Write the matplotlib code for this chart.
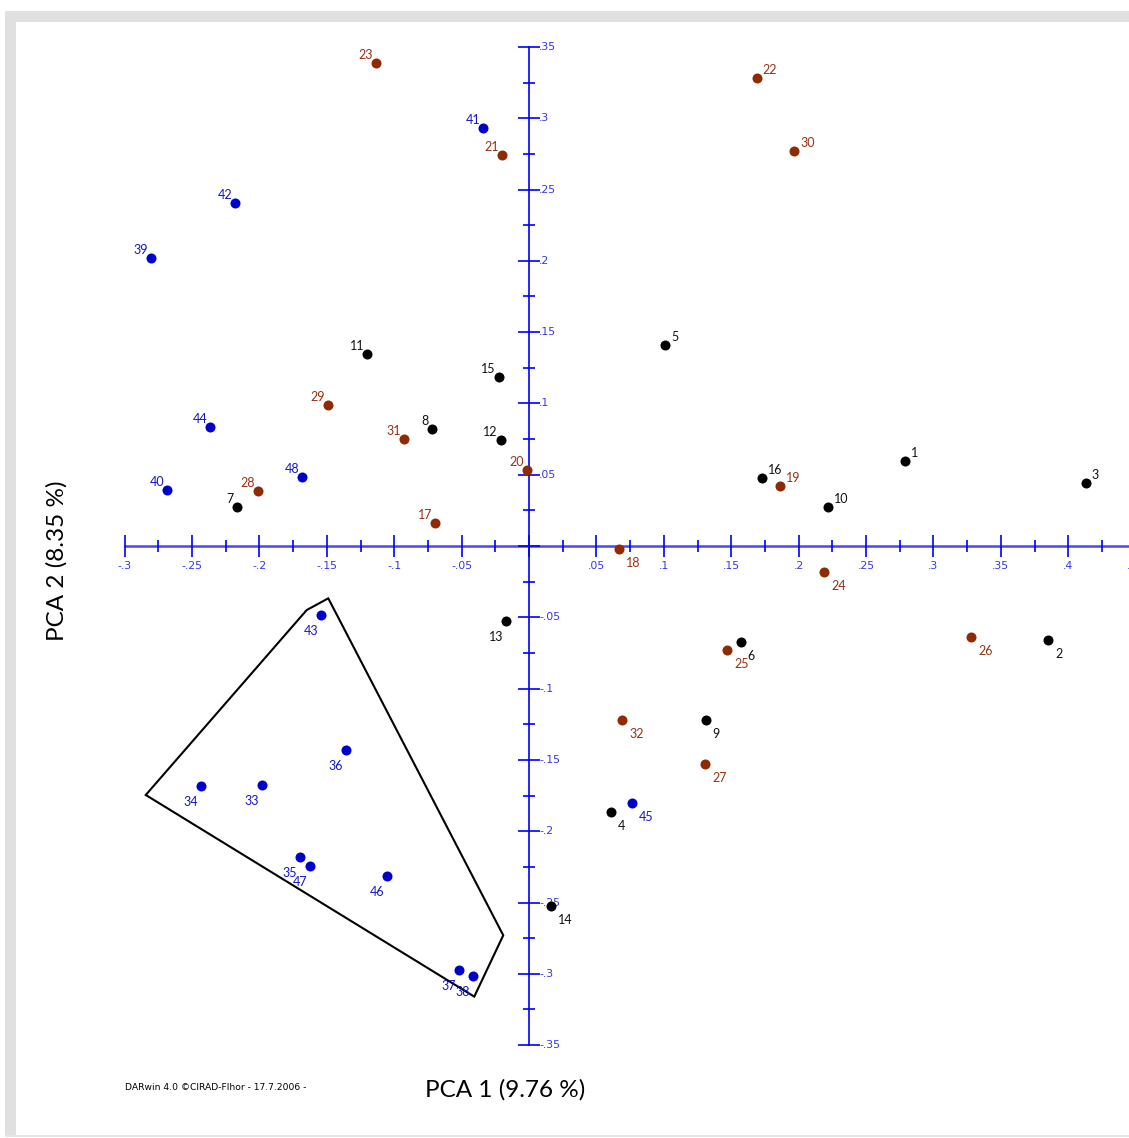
import numpy as np
import matplotlib
matplotlib.use("Agg")
import matplotlib.pyplot as plt
from matplotlib.patches import Polygon, Rectangle

# sample ids, PCA coordinates and group of each sample
ids = list(range(1, 49))
pca1 = [0.279, 0.385, 0.413, 0.061, 0.101, 0.157, -0.2166, -0.072, 0.131, 0.222,
        -0.120, -0.0208, -0.017, 0.0163, -0.0223, 0.173,
        -0.0697, 0.0668, 0.186, -0.0015, -0.020, 0.169, -0.1135, 0.219, 0.147,
        0.328, 0.1306, -0.201, -0.149, 0.1966, -0.0927, 0.069,
        -0.198, -0.2433, -0.1699, -0.1358, -0.0519, -0.0415, -0.2804, -0.2685,
        -0.0341, -0.218, -0.1543, -0.2366, 0.0764, -0.1053, -0.1625, -0.1684]
pca2 = [0.0596, -0.066, 0.044, -0.1865, 0.141, -0.0673, 0.0273, 0.082, -0.122, 0.0273,
        0.1346, 0.0743, -0.0526, -0.2525, 0.1185, 0.0477,
        0.0161, -0.0021, 0.042, 0.0533, 0.274, 0.328, 0.3387, -0.0182, -0.0729,
        -0.0638, -0.1529, 0.0386, 0.0989, 0.277, 0.075, -0.122,
        -0.1676, -0.1683, -0.218, -0.143, -0.2973, -0.3015, 0.202, 0.0393,
        0.293, 0.2405, -0.0484, 0.0834, -0.180, -0.2314, -0.2244, 0.0484]
groups = ["black"] * 16 + ["brown"] * 16 + ["blue"] * 16

marker_colors = {"black": "#000000", "brown": "#8f2a04", "blue": "#0000cc"}
label_colors = {"black": "#111111", "brown": "#963212", "blue": "#1515cc"}

# outline drawn round the blue cluster
hull_x = [-0.2843, -0.1649, -0.1489, -0.0191, -0.0406]
hull_y = [-0.1746, -0.0449, -0.0367, -0.273, -0.316]

x_ticks = np.round(np.arange(-0.3, 0.426, 0.025), 3)
y_ticks = np.round(np.arange(-0.35, 0.351, 0.025), 3)


def tick_text(v):
    s = f"{v:g}"
    return s.replace("0.", ".")


W, H = 1129, 1138
fig = plt.figure(figsize=(W / 100, H / 100), dpi=100)

# grey frame of the exported window
grey = "#e0e0e0"
fig.add_artist(Rectangle((5 / W, 1 - 22 / H), 1 - 5 / W, 11 / H,
                         transform=fig.transFigure, color=grey, lw=0))
fig.add_artist(Rectangle((5 / W, 2 / H), 11 / W, 1 - 13 / H,
                         transform=fig.transFigure, color=grey, lw=0))
fig.add_artist(Rectangle((5 / W, 1 / H), 1 - 5 / W, 2 / H,
                         transform=fig.transFigure, color="#e6e6e6", lw=0))

ax = fig.add_axes([0, 0, 1, 1])
ax.set_xlim(-529 / 1348, 600 / 1348)
ax.set_ylim((546 - 1138) / 1426, 546 / 1426)
ax.axis("off")

# axes through the origin
ax.plot([-0.3, 0.45], [0, 0], color="#4646ff", lw=1.8, zorder=1)
ax.plot([0, 0], [-0.35, 0.35], color="#0000ff", lw=1.2, zorder=1)

tick_font = dict(fontsize=7.8, color="#3535e8", family="DejaVu Sans")

for v in x_ticks:
    major = abs(round(v / 0.05) * 0.05 - v) < 1e-6
    ax.plot([v], [0], marker="|", ms=16 if major else 8.5, mew=1.2,
            color="#0000ff", zorder=1)
    if major and abs(v) > 1e-6:
        ax.annotate(tick_text(v), (v, 0), xytext=(0, -20), textcoords="offset pixels",
                    ha="center", va="center", **tick_font)
# last label sits on the right edge, cut like in the exported picture
ax.annotate(".45", (0.45, 0), xytext=(0, -20), textcoords="offset pixels",
            ha="center", va="center", annotation_clip=False, **tick_font)

for v in y_ticks:
    major = abs(round(v / 0.05) * 0.05 - v) < 1e-6
    ax.plot([0], [v], marker="_", ms=16 if major else 8.5, mew=1.2,
            color="#0000ff", zorder=1)
    if major and abs(v) > 1e-6:
        ax.annotate(tick_text(v), (0, v), xytext=(10, 0), textcoords="offset pixels",
                    ha="left", va="center", **tick_font)

ax.add_patch(Polygon(list(zip(hull_x, hull_y)), closed=True, fill=False,
                     edgecolor="black", lw=1.5, zorder=2))

for i, x, y, g in zip(ids, pca1, pca2, groups):
    ax.scatter(x, y, s=52, color=marker_colors[g], lw=0, zorder=3)
    if x >= 0 and y >= 0:
        off, ha = (6, 8), "left"
    elif x < 0 and y >= 0:
        off, ha = (-3, 8), "right"
    elif x < 0:
        off, ha = (-3, -16), "right"
    else:
        off, ha = (7, -14), "left"
    ax.annotate(str(i), (x, y), xytext=off, textcoords="offset pixels",
                ha=ha, va="center", fontsize=9, color=label_colors[g],
                family="Lato", zorder=4)

fig.text(505 / W, 1 - 1090 / H, "PCA 1 (9.76 %)", ha="center", va="center",
         fontsize=17.5, family="Lato")
fig.text(57 / W, 1 - 561 / H, "PCA 2 (8.35 %)", ha="center", va="center",
         fontsize=17.5, family="Lato", rotation=90)
fig.text(125 / W, 1 - 1088 / H, "DARwin 4.0 \u00a9CIRAD-Flhor - 17.7.2006 -",
         ha="left", va="center", fontsize=6.6, family="DejaVu Sans")

fig.savefig("out.png", dpi=100)
